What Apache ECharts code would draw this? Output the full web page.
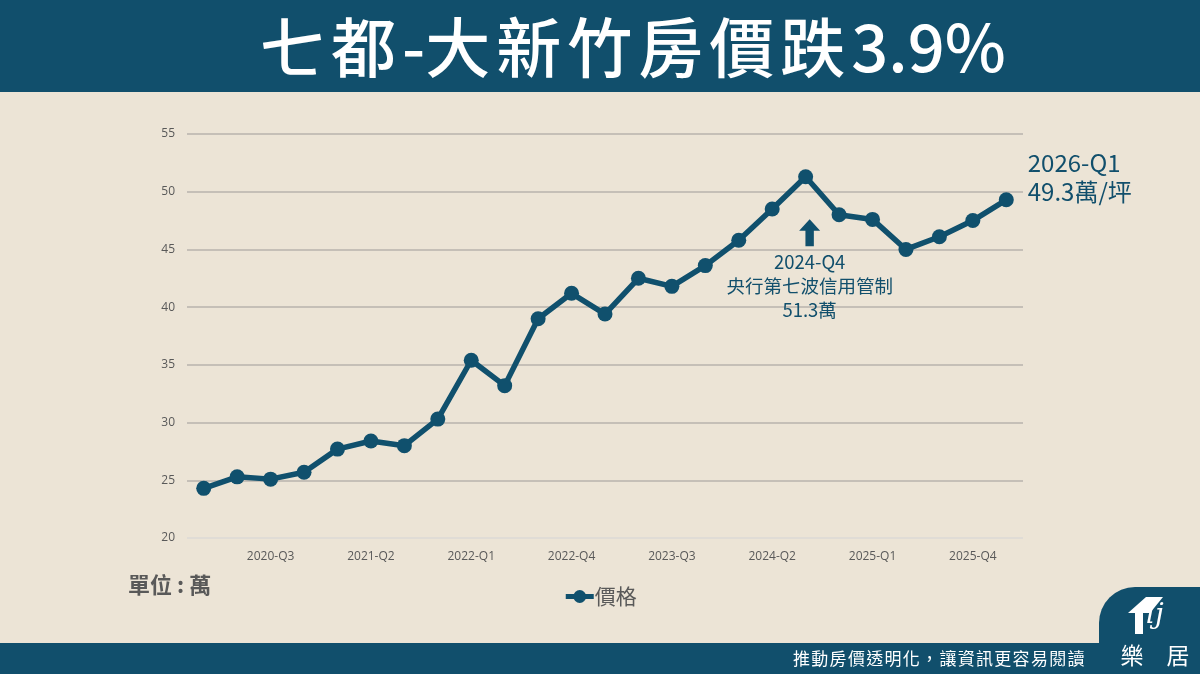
<!DOCTYPE html>
<html>
<head>
<meta charset="utf-8">
<script src="https://cdn.jsdelivr.net/npm/echarts@6/dist/echarts.min.js"></script>
<style>
  html, body { margin: 0; padding: 0; background: #ece4d6; }
  #chart { width: 1200px; height: 674px; }
</style>
</head>
<body>
<div id="chart"></div>
<script>
(function () {
  'use strict';

  var quarters = [
    '2020-Q1', '2020-Q2', '2020-Q3', '2020-Q4',
    '2021-Q1', '2021-Q2', '2021-Q3', '2021-Q4',
    '2022-Q1', '2022-Q2', '2022-Q3', '2022-Q4',
    '2023-Q1', '2023-Q2', '2023-Q3', '2023-Q4',
    '2024-Q1', '2024-Q2', '2024-Q3', '2024-Q4',
    '2025-Q1', '2025-Q2', '2025-Q3', '2025-Q4',
    '2026-Q1'
  ];
  var prices = [
    24.3, 25.3, 25.1, 25.7,
    27.7, 28.4, 28.0, 30.3,
    35.4, 33.2, 39.0, 41.2,
    39.4, 42.5, 41.8, 43.6,
    45.8, 48.5, 51.3, 48.0,
    47.6, 45.0, 46.1, 47.5,
    49.3
  ];
  var yTicks = { min: 20, max: 55, step: 5 };

  var peakIdx = 18;   // 政策標註點
  var lastIdx = prices.length - 1;

  var DARK = '#114f6c';
  var LINE = '#10506d';
  var GREY = '#595959';
  var CJK = '"Noto Sans CJK TC", "Noto Sans", sans-serif';

  var chart = echarts.init(document.getElementById('chart'));

  // 向上箭頭
  var arrowPath = 'path://M5,0 L10,6 L7,6 L7,14 L3,14 L3,6 L0,6 Z';

  // 逐字排開（模擬字距），中文字與英數字距不同
  function spacedText(str, font, startX, y, gapCjk, gapLatin, style) {
    var ctx = document.createElement('canvas').getContext('2d');
    ctx.font = font;
    var x = startX;
    var out = [];
    str.split('').forEach(function (ch) {
      out.push({
        type: 'text', x: x, y: y,
        style: echarts.util.extend({ text: ch, font: font, verticalAlign: 'middle' }, style)
      });
      x += ctx.measureText(ch).width + (/[\x00-\x7f]/.test(ch) ? gapLatin : gapCjk);
    });
    return out;
  }

  var titleParts = spacedText('七都-大新竹房價跌3.9%', '500 65px ' + CJK, 260, 47, 6, 0, {
    fill: '#ffffff',
    shadowColor: 'rgba(0,0,0,0.6)',
    shadowBlur: 3,
    shadowOffsetX: 2,
    shadowOffsetY: 3
  });
  var footParts = spacedText('推動房價透明化，讓資訊更容易閱讀', '17px ' + CJK, 793, 659, 1.3, 1.3, { fill: '#ffffff' });

  chart.setOption({
    backgroundColor: '#ece4d6',
    textStyle: { fontFamily: CJK },
    grid: { left: 187, right: 177, top: 134, bottom: 136 },
    legend: {
      data: ['價格'],
      left: 'center',
      top: 581,
      itemWidth: 28,
      itemHeight: 16,
      itemGap: 2,
      lineStyle: { width: 5 },
      textStyle: { fontSize: 21, color: GREY, fontFamily: CJK, padding: [0, 0, 0, -4] }
    },
    xAxis: {
      type: 'category',
      data: quarters,
      boundaryGap: true,
      axisLine: { show: false },
      axisTick: { show: false },
      axisLabel: {
        color: GREY,
        fontSize: 12,
        margin: 13,
        fontFamily: '"Open Sans", "Noto Sans", sans-serif',
        interval: function (i) { return i % 3 === 2; }
      }
    },
    yAxis: {
      type: 'value',
      min: yTicks.min,
      max: yTicks.max,
      interval: yTicks.step,
      axisLine: { show: false },
      axisTick: { show: false },
      axisLabel: {
        color: GREY,
        fontSize: 12,
        margin: 12,
        fontFamily: '"Open Sans", "Noto Sans", sans-serif'
      },
      splitLine: {
        lineStyle: {
          width: 1.5,
          color: ['#dcdad6', '#b8b3ad', '#b8b3ad', '#b8b3ad', '#b8b3ad', '#b8b3ad', '#b8b3ad', '#b8b3ad']
        }
      }
    },
    series: [{
      name: '價格',
      type: 'line',
      data: prices.map(function (v, i) {
        if (i !== lastIdx) return v;
        return {
          value: v,
          label: {
            show: true,
            position: 'right',
            distance: 14,
            offset: [0, -22],
            align: 'left',
            color: DARK,
            fontSize: 24,
            lineHeight: 29,
            fontFamily: CJK,
            formatter: quarters[i] + '\n' + v + '萬/坪'
          }
        };
      }),
      symbol: 'circle',
      symbolSize: 15,
      lineStyle: { color: LINE, width: 5.5 },
      itemStyle: { color: LINE },
      label: { show: false },
      animation: false,
      markPoint: {
        silent: true,
        animation: false,
        data: [{
          coord: [peakIdx, prices[peakIdx]],
          symbol: arrowPath,
          symbolSize: [21, 27],
          symbolOffset: [4, 56],
          itemStyle: { color: LINE },
          label: {
            show: true,
            position: 'bottom',
            distance: 4,
            align: 'center',
            color: DARK,
            fontSize: 18.5,
            lineHeight: 24,
            fontFamily: CJK,
            formatter: '2024-Q4\n央行第七波信用管制\n' + prices[peakIdx] + '萬'
          }
        }]
      }
    }],
    graphic: [
      { type: 'rect', shape: { x: 0, y: 0, width: 1200, height: 92 }, style: { fill: DARK } }
    ].concat(titleParts).concat([
      {
        type: 'text', x: 128, y: 585,
        style: { text: '單位 : 萬', fill: GREY, font: 'bold 22px ' + CJK, verticalAlign: 'middle' }
      },
      // 底部條與右下角標籤
      { type: 'rect', shape: { x: 0, y: 643, width: 1200, height: 31 }, style: { fill: DARK } },
      { type: 'rect', shape: { x: 1099, y: 587, width: 101, height: 87, r: [36, 0, 0, 0] }, style: { fill: DARK } },
      {
        type: 'polygon',
        shape: { points: [[1128, 613], [1146, 597], [1163, 597], [1150, 613], [1143, 613], [1143, 634], [1135, 634], [1135, 613]] },
        style: { fill: '#ffffff' }
      },
      {
        type: 'text', x: 1146, y: 616,
        style: { text: 'lj', fill: '#ffffff', font: 'italic 28px "DejaVu Serif", serif', verticalAlign: 'middle' }
      },
      {
        type: 'text', x: 1155, y: 655,
        style: { text: '樂　居', fill: '#ffffff', font: '23px ' + CJK, align: 'center', verticalAlign: 'middle' }
      }
    ]).concat(footParts)
  });

  window.addEventListener('resize', chart.resize);
})();
</script>
</body>
</html>
